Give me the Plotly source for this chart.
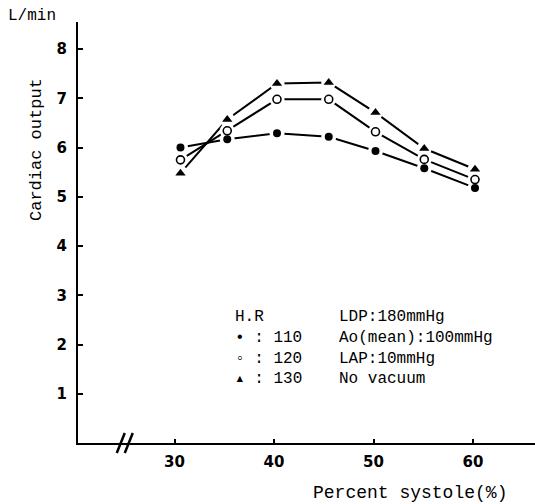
import plotly.graph_objects as go

# Data
systole_pct = [30.6, 35.3, 40.3, 45.5, 50.2, 55.1, 60.2]
co_hr110 = [6.00, 6.17, 6.29, 6.22, 5.93, 5.58, 5.18]
co_hr120 = [5.75, 6.34, 6.98, 6.98, 6.32, 5.76, 5.35]
co_hr130 = [5.48, 6.57, 7.30, 7.32, 6.71, 5.98, 5.56]

x_ticks = [30, 40, 50, 60]
y_ticks = [1, 2, 3, 4, 5, 6, 7, 8]
x_range = [20.3, 66.23]
y_range = [0, 8.55]
x_break = 25.0

legend_left = "H.R<br>\u2022 : 110<br>\u25e6 : 120<br>\u25b4 : 130"
legend_right = "LDP:180mmHg<br>Ao(mean):100mmHg<br>LAP:10mmHg<br>No vacuum"

W, H = 535, 504
ML, MR, MT, MB = 78, 0, 22, 61
PW, PH = W - ML - MR, H - MT - MB

mono = "Liberation Mono, Courier New, monospace"
tickfont = dict(family="DejaVu Sans", size=15, color="black", weight="bold")

series = [
    (co_hr110, dict(symbol="circle", size=8, color="black")),
    (co_hr120, dict(symbol="circle-open", size=8, color="black", line=dict(width=1.6, color="black"))),
    (co_hr130, dict(symbol="triangle-up", size=9, color="black")),
]

fig = go.Figure()
for ys, _ in series:
    fig.add_trace(go.Scatter(x=systole_pct, y=ys, mode="lines",
                             line=dict(color="black", width=2), hoverinfo="skip"))
for ys, _ in series:
    fig.add_trace(go.Scatter(x=systole_pct, y=ys, mode="markers",
                             marker=dict(symbol="circle", size=15, color="white"), hoverinfo="skip"))
for ys, mk in series:
    fig.add_trace(go.Scatter(x=systole_pct, y=ys, mode="markers", marker=mk))


def xpaper(v):
    return (v - x_range[0]) / (x_range[1] - x_range[0])


# axis break marks "//"
bx = xpaper(x_break)
dx = 4.0 / PW
dy = 10.0 / PH
shapes = []
for off in (-4.0 / PW, 4.0 / PW):
    shapes.append(dict(type="line", xref="paper", yref="paper",
                       x0=bx + off - dx, y0=-dy, x1=bx + off + dx, y1=dy,
                       line=dict(color="black", width=2.5)))

annotations = [
    dict(text="L/min", xref="paper", yref="paper", x=-ML / PW + 6 / PW, y=1 + 6 / PH,
         xanchor="left", yanchor="middle", showarrow=False, font=dict(family=mono, size=16, color="black")),
    dict(text="Cardiac output", xref="paper", yref="paper", x=-42 / PW, y=(H - MB - 150) / PH,
         xanchor="center", yanchor="middle", textangle=-90, showarrow=False,
         font=dict(family=mono, size=17, color="black")),
    dict(text="Percent systole(%)", xref="paper", yref="paper", x=(410 - ML) / PW, y=-50 / PH,
         xanchor="center", yanchor="middle", showarrow=False,
         font=dict(family=mono, size=18, color="black")),
    dict(text=legend_left, xref="paper", yref="paper", x=(233 - ML) / PW, y=(H - MB - 306) / PH,
         xanchor="left", yanchor="top", align="left", showarrow=False,
         font=dict(family=mono, size=16, color="black")),
    dict(text=legend_right, xref="paper", yref="paper", x=(337 - ML) / PW, y=(H - MB - 306) / PH,
         xanchor="left", yanchor="top", align="left", showarrow=False,
         font=dict(family=mono, size=16, color="black")),
]

fig.update_layout(
    width=W, height=H,
    margin=dict(l=ML, r=MR, t=MT, b=MB, pad=0),
    paper_bgcolor="white", plot_bgcolor="white",
    showlegend=False,
    shapes=shapes,
    annotations=annotations,
    xaxis=dict(range=x_range, tickvals=x_ticks, ticktext=[str(v) for v in x_ticks],
               showgrid=False, zeroline=False, showline=True, linecolor="black", linewidth=2,
               ticks="inside", ticklen=4, tickwidth=2, tickcolor="black",
               tickfont=tickfont, ticklabelstandoff=4),
    yaxis=dict(range=y_range, tickvals=y_ticks, ticktext=[str(v) for v in y_ticks],
               showgrid=False, zeroline=False, showline=True, linecolor="black", linewidth=2,
               ticks="inside", ticklen=5, tickwidth=2, tickcolor="black",
               tickfont=tickfont, ticklabelstandoff=6),
)

fig.write_html("out.html")
